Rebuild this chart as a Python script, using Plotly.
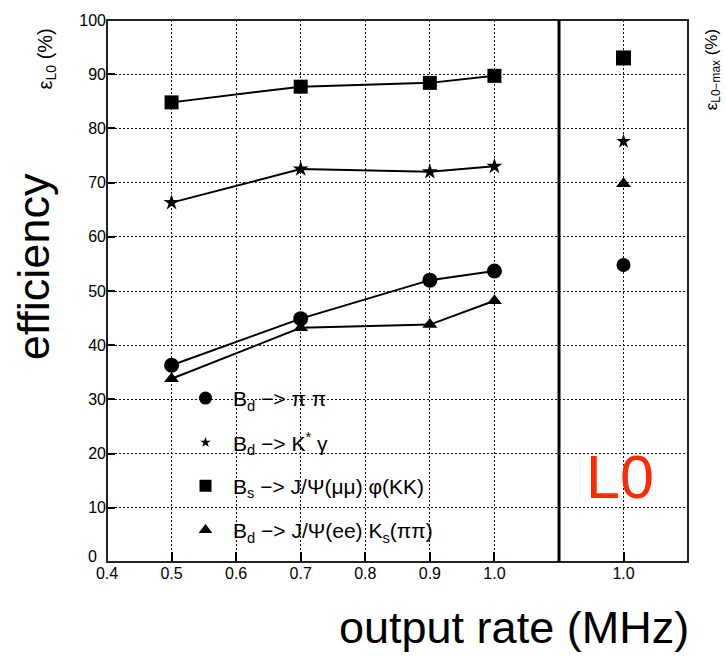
import plotly.graph_objects as go

# Output rates (MHz) of the scanned trigger settings
rates = [0.5, 0.7, 0.9, 1.0]
# Rate of the L0-max reference point
l0_rate = [1.0]

# Efficiencies (%) per channel versus output rate
eff_bd_pipi = [36.3, 44.9, 52.0, 53.7]
eff_bd_kstgamma = [66.3, 72.5, 72.0, 73.0]
eff_bs_jpsiphi = [84.8, 87.7, 88.4, 89.7]
eff_bd_jpsiks = [33.8, 43.2, 43.8, 48.2]

# L0-max efficiencies (%) per channel
l0max_bd_pipi = [54.8]
l0max_bd_kstgamma = [77.6]
l0max_bs_jpsiphi = [93.0]
l0max_bd_jpsiks = [69.8]

channel_names = [
    "B<sub>d</sub> −> π π",
    "B<sub>d</sub> −> K<sup>*</sup> γ",
    "B<sub>s</sub> −> J/Ψ(μμ) φ(KK)",
    "B<sub>d</sub> −> J/Ψ(ee) K<sub>s</sub>(ππ)",
]
x_ticks = [0.4, 0.5, 0.6, 0.7, 0.8, 0.9, 1.0]
y_ticks = [10, 20, 30, 40, 50, 60, 70, 80, 90, 100]

FONT = "Liberation Sans, Arial, Helvetica, sans-serif"

channels = [
    (eff_bd_pipi, l0max_bd_pipi, "circle", 15, 13, 14),
    (eff_bd_kstgamma, l0max_bd_kstgamma, "star", 12, 8, 11),
    (eff_bs_jpsiphi, l0max_bs_jpsiphi, "square", 14, 12, 15),
    (eff_bd_jpsiks, l0max_bd_jpsiks, "triangle-up", 13, 12, 13),
]

fig = go.Figure()
legend_ids = ["legend", "legend2", "legend3", "legend4"]
for i, (eff, l0max, sym, msize, lsize, rsize) in enumerate(channels):
    fig.add_trace(go.Scatter(
        x=rates, y=eff, mode="lines+markers",
        line=dict(color="black", width=2),
        marker=dict(symbol=sym, size=msize, color="black"),
        showlegend=False, xaxis="x", yaxis="y", cliponaxis=False,
    ))
    fig.add_trace(go.Scatter(
        x=l0_rate, y=l0max, mode="markers",
        marker=dict(symbol=sym, size=rsize, color="black"),
        showlegend=False, xaxis="x2", yaxis="y2",
    ))
    # legend-only entry showing the marker without a line
    fig.add_trace(go.Scatter(
        x=[None], y=[None], mode="markers", name=channel_names[i],
        marker=dict(symbol=sym, size=lsize, color="black"),
        showlegend=True, legend=legend_ids[i],
    ))

L, R, T, B = 107, 38, 12, 94
W, H = 726, 656
pw = W - L - R
ph = H - T - B
split = (559 - L) / pw


def px(xp):
    return (xp - L) / pw


def py(yp):
    return (H - B - yp) / ph


grid = dict(showgrid=True, gridcolor="#111", gridwidth=1, griddash="2px,2px")
tickfont = dict(family=FONT, size=16, color="black")

layout = dict(
    width=W, height=H,
    margin=dict(l=L, r=R, t=T, b=B),
    paper_bgcolor="white", plot_bgcolor="white",
    font=dict(family=FONT, color="black"),
    xaxis=dict(domain=[0, split], range=[0.4, 1.1], tickvals=x_ticks,
               tickformat=".1f", ticks="inside", ticklen=10, tickwidth=1.5,
               tickcolor="black", tickfont=tickfont, zeroline=False,
               showline=False, anchor="y", **grid),
    xaxis2=dict(domain=[split, 1], range=[0.5, 1.5], tickvals=l0_rate,
                tickformat=".1f", ticks="inside", ticklen=10, tickwidth=1.5,
                tickcolor="black", tickfont=tickfont, zeroline=False,
                showline=False, anchor="y2", **grid),
    yaxis=dict(range=[0, 100], tickvals=y_ticks, ticks="inside", ticklen=8,
               tickwidth=1.5, tickcolor="black", tickfont=tickfont,
               zeroline=False, showline=False, anchor="x", **grid),
    yaxis2=dict(range=[0, 100], tickvals=y_ticks, matches="y",
                showticklabels=False, ticks="", zeroline=False,
                showline=False, anchor="x2", **grid),
)

# one legend per channel so each row sits at its own height
legend_rows = [396, 441, 485, 530]
for lid, yrow in zip(legend_ids, legend_rows):
    layout[lid] = dict(
        x=px(178), y=py(yrow), xanchor="left", yanchor="middle",
        bgcolor="rgba(0,0,0,0)", borderwidth=0, itemwidth=45,
        font=dict(family=FONT, size=21, color="black"),
    )

fig.update_layout(**layout)

# frame around both panels and the thick divider
fig.add_shape(type="rect", xref="paper", yref="paper", x0=0, x1=1, y0=0, y1=1,
              line=dict(color="#222", width=2))
fig.add_shape(type="line", xref="paper", yref="paper", x0=split, x1=split,
              y0=0, y1=1, line=dict(color="black", width=3))

# the zero label of the y axis sits slightly raised above the x labels
fig.add_annotation(text="0", xref="paper", yref="paper",
                   x=px(99), y=py(556), showarrow=False,
                   xanchor="right", yanchor="middle", font=tickfont)

fig.add_annotation(text="efficiency", xref="paper", yref="paper",
                   x=px(33), y=py(263), textangle=-90, showarrow=False,
                   xanchor="center", yanchor="middle",
                   font=dict(family=FONT, size=45, color="black"))
fig.add_annotation(text="output rate (MHz)", xref="paper", yref="paper",
                   x=px(691), y=py(628), showarrow=False,
                   xanchor="right", yanchor="middle",
                   font=dict(family=FONT, size=45, color="black"))
fig.add_annotation(text="L0", xref="paper", yref="paper",
                   x=px(620), y=py(476), showarrow=False,
                   xanchor="center", yanchor="middle",
                   font=dict(family=FONT, size=61, color="#ff2a00"))
fig.add_annotation(text="ε<sub>L0</sub> (%)", xref="paper", yref="paper",
                   x=px(46), y=py(52), textangle=-90, showarrow=False,
                   xanchor="center", yanchor="middle",
                   font=dict(family=FONT, size=20, color="black"))
fig.add_annotation(text="ε<sub>L0−max</sub> (%)", xref="paper", yref="paper",
                   x=px(713), y=py(62), textangle=-90, showarrow=False,
                   xanchor="center", yanchor="middle",
                   font=dict(family=FONT, size=17, color="black"))

fig.write_html("out.html")
